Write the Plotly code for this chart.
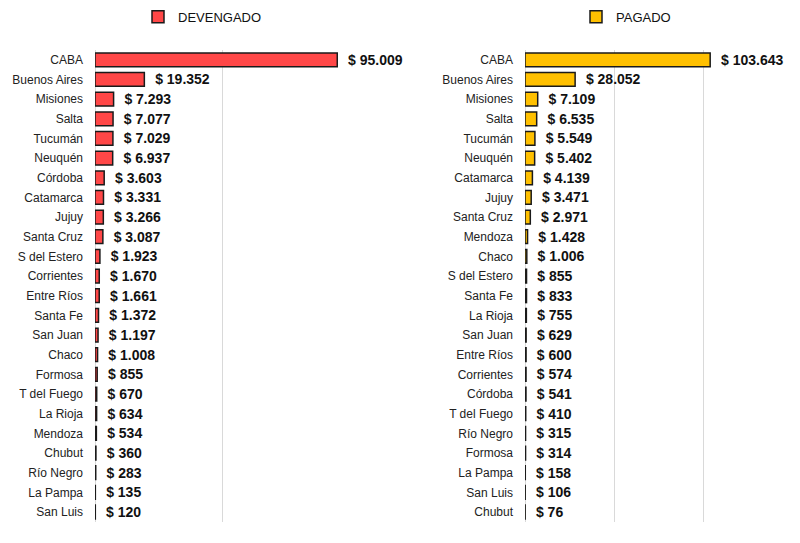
import plotly.graph_objects as go
from plotly.subplots import make_subplots

#   Data (millones de $)
dev_provincias = ['CABA', 'Buenos Aires', 'Misiones', 'Salta', 'Tucumán', 'Neuquén',
                  'Córdoba', 'Catamarca', 'Jujuy', 'Santa Cruz', 'S del Estero',
                  'Corrientes', 'Entre Ríos', 'Santa Fe', 'San Juan', 'Chaco',
                  'Formosa', 'T del Fuego', 'La Rioja', 'Mendoza', 'Chubut',
                  'Río Negro', 'La Pampa', 'San Luis']
dev_valores = [95009, 19352, 7293, 7077, 7029, 6937, 3603, 3331, 3266, 3087, 1923,
               1670, 1661, 1372, 1197, 1008, 855, 670, 634, 534, 360, 283, 135, 120]

pag_provincias = ['CABA', 'Buenos Aires', 'Misiones', 'Salta', 'Tucumán', 'Neuquén',
                  'Catamarca', 'Jujuy', 'Santa Cruz', 'Mendoza', 'Chaco',
                  'S del Estero', 'Santa Fe', 'La Rioja', 'San Juan', 'Entre Ríos',
                  'Corrientes', 'Córdoba', 'T del Fuego', 'Río Negro', 'Formosa',
                  'La Pampa', 'San Luis', 'Chubut']
pag_valores = [103643, 28052, 7109, 6535, 5549, 5402, 4139, 3471, 2971, 1428, 1006,
               855, 833, 755, 629, 600, 574, 541, 410, 315, 314, 158, 106, 76]

ROJO = '#FF4747'
AMARILLO = '#FFC000'
BORDE = '#1a1a1a'
FUENTE = 'Liberation Sans, Arial, sans-serif'

#   Initializing Figure
fig = make_subplots(rows=1, cols=2)

fig.add_trace(go.Bar(
    x=dev_valores, y=dev_provincias, orientation='h', name='DEVENGADO',
    marker=dict(color=ROJO, line=dict(color=BORDE, width=1.5)),
    texttemplate='\u00a0\u00a0$ %{x:,.0f}', textposition='outside',
    constraintext='none', cliponaxis=False,
    textfont=dict(family=FUENTE, size=14, color='#111111', weight='bold'),
    legend='legend',
), row=1, col=1)

fig.add_trace(go.Bar(
    x=pag_valores, y=pag_provincias, orientation='h', name='PAGADO',
    marker=dict(color=AMARILLO, line=dict(color=BORDE, width=1.5)),
    texttemplate='\u00a0\u00a0$ %{x:,.0f}', textposition='outside',
    constraintext='none', cliponaxis=False,
    textfont=dict(family=FUENTE, size=14, color='#111111', weight='bold'),
    legend='legend2',
), row=1, col=2)

ejes_x = dict(showticklabels=False, showgrid=True, gridcolor='#d9d9d9', gridwidth=1,
              zeroline=True, zerolinecolor='#d9d9d9', zerolinewidth=1, ticks='',
              showline=False, dtick=50000)
ejes_y = dict(autorange='reversed', ticks='', showline=False, showgrid=False,
              ticklabelstandoff=11,
              tickfont=dict(family=FUENTE, size=12, color='#222222'),
              domain=[0.039, 0.908])

fig.update_xaxes(ejes_x)
fig.update_yaxes(ejes_y)
fig.update_xaxes(range=[0, 100000], domain=[0.11875, 0.4375], row=1, col=1)
fig.update_xaxes(range=[0, 150000], domain=[0.65625, 0.99125], row=1, col=2)

#   Updating Layout
fig.update_layout(
    width=800, height=543,
    margin=dict(l=0, r=0, t=0, b=0),
    plot_bgcolor='white', paper_bgcolor='white',
    separators=',.',
    bargap=0.3,
    showlegend=True,
    font=dict(family=FUENTE, color='#222222'),
    legend=dict(x=138 / 800, y=0.969, xanchor='left', yanchor='middle',
                font=dict(family=FUENTE, size=13, color='#111111'),
                itemwidth=30, bgcolor='rgba(0,0,0,0)'),
    legend2=dict(x=576 / 800, y=0.969, xanchor='left', yanchor='middle',
                 font=dict(family=FUENTE, size=13, color='#111111'),
                 itemwidth=30, bgcolor='rgba(0,0,0,0)'),
)

#   Writing Figure to HTML (sin margen del body)
fig.write_html('out.html', config={'displayModeBar': False},
               post_script="document.body.style.margin='0';")
